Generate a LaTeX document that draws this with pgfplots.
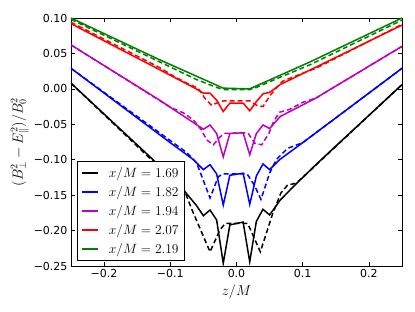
\RequirePackage{fix-cm}
\documentclass[border=0pt]{standalone}
\usepackage{fontspec}
\setmainfont{DejaVu Sans}
\usepackage{pgfplots}
\pgfplotsset{compat=1.18}
\definecolor{mplgreen}{rgb}{0,0.5,0}
\definecolor{mplmag}{rgb}{0.75,0,0.75}
\newcommand{\legtxt}[1]{$x/M=#1$}
\begin{document}
\begin{tikzpicture}
\begin{axis}[
 scale only axis, width=331pt, height=248pt,
 xmin=-0.25, xmax=0.25, ymin=-0.25, ymax=0.10,
 xtick={-0.2,-0.1,0,0.1,0.2},
 xticklabels={−0.2,−0.1,0.0,0.1,0.2},
 ytick={-0.25,-0.20,-0.15,-0.10,-0.05,0,0.05,0.10},
 yticklabels={−0.25,−0.20,−0.15,−0.10,−0.05,0.00,0.05,0.10},
 tick label style={font=\fontsize{11}{13}\selectfont},
 tick align=inside, major tick length=4pt,
 tick style={black, line width=0.6pt},
 axis line style={line width=0.8pt},
 xlabel={$z/M$}, ylabel={$(B_\perp^2-E_\parallel^2)/B_0^2$},
 label style={font=\fontsize{14.4}{16}\selectfont},
 ylabel style={yshift=-2pt},
 legend style={at={(0.017,0.02)}, anchor=south west, draw=black, line width=0.8pt, fill=white,
   font=\fontsize{13.5}{15}\selectfont,
   inner xsep=4.5pt, inner ysep=4.5pt, row sep=4.3pt,
   column sep=8pt, nodes={inner sep=1.5pt}},
 legend cell align=left,
 legend image code/.code={\draw[#1, line width=1.9pt] (0pt,0pt) -- (16pt,0pt);},
 every axis plot/.append style={line width=1.5pt},
 clip=true,
]
% black
\addplot[black] coordinates {(-0.25,0.008) (-0.126,-0.100) (-0.078,-0.145) (-0.061,-0.164) (-0.05,-0.179) (-0.04,-0.171) (-0.03,-0.185) (-0.02,-0.246) (-0.01,-0.192) (0.01,-0.188) (0.02,-0.244) (0.03,-0.187) (0.04,-0.170) (0.05,-0.178) (0.066,-0.157) (0.088,-0.136) (0.120,-0.107) (0.144,-0.086) (0.25,0.006)};
\addlegendentry{\legtxt{1.69}}
\addplot[black, dash pattern=on 5pt off 3pt, forget plot] coordinates {(-0.25,0.008) (-0.078,-0.145) (-0.068,-0.169) (-0.04,-0.230) (-0.025,-0.199) (-0.017,-0.190) (0.017,-0.190) (0.027,-0.211) (0.036,-0.230) (0.054,-0.178) (0.067,-0.147) (0.077,-0.136) (0.09,-0.133) (0.10,-0.125) (0.25,0.006)};
% blue
\addplot[blue] coordinates {(-0.25,0.029) (-0.1,-0.076) (-0.065,-0.100) (-0.05,-0.114) (-0.04,-0.107) (-0.03,-0.120) (-0.02,-0.164) (-0.01,-0.122) (0.01,-0.119) (0.02,-0.163) (0.03,-0.123) (0.04,-0.106) (0.05,-0.114) (0.065,-0.100) (0.1,-0.076) (0.25,0.029)};
\addlegendentry{\legtxt{1.82}}
\addplot[blue, dash pattern=on 5pt off 3pt, forget plot] coordinates {(-0.25,0.029) (-0.075,-0.090) (-0.06,-0.105) (-0.04,-0.154) (-0.0275,-0.124) (-0.02,-0.120) (0.016,-0.120) (0.027,-0.136) (0.037,-0.156) (0.05,-0.119) (0.06,-0.100) (0.077,-0.084) (0.1,-0.076) (0.25,0.029)};
% magenta
\addplot[mplmag] coordinates {(-0.25,0.062) (-0.116,-0.016) (-0.05,-0.057) (-0.04,-0.051) (-0.03,-0.063) (-0.02,-0.096) (-0.01,-0.063) (0.01,-0.062) (0.02,-0.093) (0.03,-0.063) (0.04,-0.051) (0.05,-0.056) (0.066,-0.039) (0.12,-0.013) (0.25,0.060)};
\addlegendentry{\legtxt{1.94}}
\addplot[mplmag, dash pattern=on 5pt off 3pt, forget plot] coordinates {(-0.25,0.062) (-0.1,-0.026) (-0.08,-0.034) (-0.065,-0.044) (-0.053,-0.058) (-0.045,-0.072) (-0.035,-0.079) (-0.025,-0.068) (-0.018,-0.063) (0.017,-0.062) (0.028,-0.077) (0.038,-0.079) (0.049,-0.063) (0.056,-0.046) (0.065,-0.033) (0.08,-0.029) (0.10,-0.019) (0.12,-0.013) (0.25,0.060)};
% red
\addplot[red] coordinates {(-0.25,0.092) (-0.116,0.027) (-0.063,0.001) (-0.05,-0.006) (-0.04,-0.006) (-0.03,-0.016) (-0.02,-0.032) (-0.01,-0.020) (0.01,-0.020) (0.02,-0.031) (0.03,-0.018) (0.04,-0.007) (0.05,-0.005) (0.066,0.006) (0.25,0.090)};
\addlegendentry{\legtxt{2.07}}
\addplot[red, dash pattern=on 5pt off 3pt, forget plot] coordinates {(-0.25,0.094) (-0.116,0.030) (-0.095,0.018) (-0.075,0.008) (-0.058,0.001) (-0.048,-0.013) (-0.038,-0.023) (-0.028,-0.0195) (-0.02,-0.017) (0.02,-0.017) (0.03,-0.023) (0.04,-0.025) (0.051,-0.009) (0.061,0.002) (0.07,0.011) (0.1,0.022) (0.12,0.029) (0.25,0.091)};
% green
\addplot[mplgreen] coordinates {(-0.25,0.100) (-0.116,0.041) (-0.02,0.001) (0.02,0.000) (0.111,0.038) (0.25,0.100)};
\addlegendentry{\legtxt{2.19}}
\addplot[mplgreen, dash pattern=on 5pt off 3pt, forget plot] coordinates {(-0.25,0.098) (-0.116,0.038) (-0.06,0.013) (-0.03,0.002) (-0.02,-0.001) (0.02,-0.001) (0.03,0.002) (0.06,0.014) (0.111,0.034) (0.25,0.097)};
\end{axis}
\path (current axis.south west) ++(-71pt,-46pt) rectangle ++(415pt,312pt);
\end{tikzpicture}
\end{document}
